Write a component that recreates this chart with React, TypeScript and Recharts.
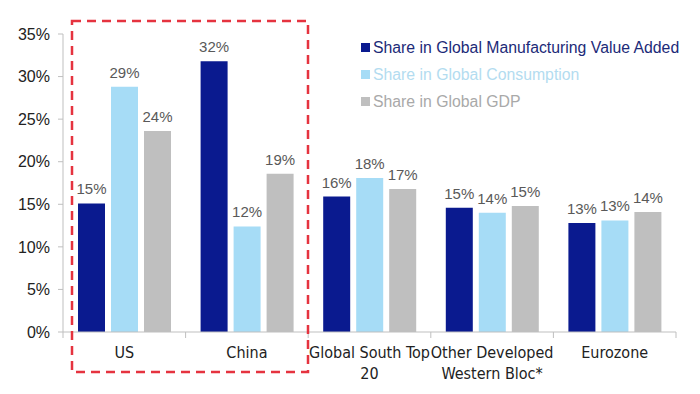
import React from 'react';
import { BarChart, Bar, XAxis, YAxis, LabelList } from 'recharts';

const categories = ['US', 'China', 'Global South Top 20', 'Other Developed Western Bloc*', 'Eurozone'];
const categoryLines = [['US'], ['China'], ['Global South Top', '20'], ['Other Developed', 'Western Bloc*'], ['Eurozone']];
const manufacturing = [15.1, 31.8, 15.9, 14.6, 12.8];
const consumption = [28.8, 12.4, 18.1, 14.0, 13.1];
const gdp = [23.6, 18.6, 16.8, 14.8, 14.1];
const yTicks = [0, 5, 10, 15, 20, 25, 30, 35];

const seriesInfo = [
  { key: 'manufacturing', name: 'Share in Global Manufacturing Value Added', color: '#0a1a8f', text: '#1c2a78' },
  { key: 'consumption', name: 'Share in Global Consumption', color: '#a6dcf6', text: '#b3dcf0' },
  { key: 'gdp', name: 'Share in Global GDP', color: '#bfbfbf', text: '#a9a9a9' },
];

const data = categories.map((name, i) => ({
  name,
  manufacturing: manufacturing[i],
  consumption: consumption[i],
  gdp: gdp[i],
}));

const AXIS = '#bfbfbf';
const FONT = 'Arial, "Liberation Sans", sans-serif';
const NARROW = '"Liberation Sans Narrow", "Arial Narrow", "DejaVu Sans Condensed", sans-serif';

function CategoryTick(props: any) {
  const { x, y, payload, index, width, visibleTicksCount } = props;
  const bw = width / visibleTicksCount;
  const lines: string[] = categoryLines[index] || [payload.value];
  return (
    <g>
      <line x1={x - bw / 2} x2={x - bw / 2} y1={y} y2={y + 6} stroke={AXIS} />
      {index === visibleTicksCount - 1 && (
        <line x1={x + bw / 2} x2={x + bw / 2} y1={y} y2={y + 6} stroke={AXIS} />
      )}
      <text x={x} y={y + 26} textAnchor="middle" fill="#222" fontSize={16} fontFamily={NARROW}>
        {lines.map((l, i) => (
          <tspan key={i} x={x} dy={i === 0 ? 0 : 21}>
            {l}
          </tspan>
        ))}
      </text>
    </g>
  );
}

function LegendBox() {
  return (
    <div style={{ position: 'absolute', left: 361, top: 34, fontFamily: FONT, fontSize: 15.8 }}>
      {seriesInfo.map((s) => (
        <div key={s.key} style={{ display: 'flex', alignItems: 'center', height: 27, color: s.text, whiteSpace: 'nowrap' }}>
          <span style={{ width: 9, height: 9, background: s.color, marginRight: 3, display: 'inline-block' }} />
          {s.name}
        </div>
      ))}
    </div>
  );
}

export default function App() {
  return (
    <div style={{ position: 'absolute', left: 0, top: 0, width: 700, height: 394, background: '#fff' }}>
      <BarChart
        width={700}
        height={394}
        data={data}
        margin={{ top: 34, right: 24, bottom: 0, left: 0 }}
        barSize={27}
        barGap={6}
      >
        <YAxis
          width={63}
          domain={[0, 35]}
          ticks={yTicks}
          tickFormatter={(v: number) => `${v}%`}
          axisLine={{ stroke: AXIS }}
          tickLine={{ stroke: AXIS }}
          tickSize={5}
          tickMargin={8}
          tick={{ fill: '#222', fontSize: 16, fontFamily: FONT }}
        />
        <XAxis
          dataKey="name"
          height={62}
          axisLine={{ stroke: AXIS }}
          tickLine={false}
          tickSize={0}
          tickMargin={0}
          interval={0}
          tick={<CategoryTick />}
        />
        {seriesInfo.map((s) => (
          <Bar key={s.key} dataKey={s.key} name={s.name} fill={s.color} isAnimationActive={false}>
            <LabelList
              dataKey={s.key}
              position="top"
              offset={9}
              formatter={(v: any) => `${Math.round(Number(v))}%`}
              style={{ fill: '#595959', fontSize: 15, fontFamily: FONT }}
            />
          </Bar>
        ))}
      </BarChart>
      <LegendBox />
      <svg width={700} height={394} style={{ position: 'absolute', left: 0, top: 0, pointerEvents: 'none' }}>
        <rect x={72} y={21} width={236} height={351} fill="none" stroke="#e5333f" strokeWidth={2.5} strokeDasharray="9 6" />
      </svg>
    </div>
  );
}
